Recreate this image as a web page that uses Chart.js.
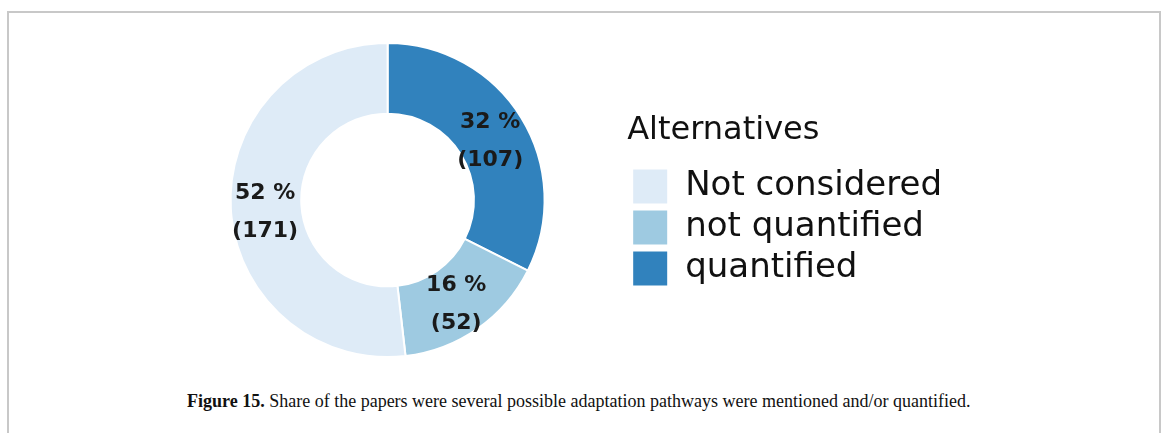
<!DOCTYPE html>
<html>
<head>
<meta charset="utf-8">
<script src="https://cdn.jsdelivr.net/npm/chart.js@4"></script>
<style>
  html, body { margin: 0; padding: 0; background: #ffffff; width: 1165px; height: 433px; overflow: hidden; }
  #frame { position: absolute; left: 7px; top: 11px; width: 1154px; height: 440px;
           border: 2px solid #c8c8c8; border-bottom: none; box-sizing: border-box; }
  #wrap { position: absolute; left: 0; top: 0; width: 1165px; height: 380px; }
  #caption { position: absolute; left: 187px; top: 391px; font-family: "Liberation Serif", serif;
             font-size: 18px; line-height: 20px; color: #111; white-space: nowrap; }
</style>
</head>
<body>
<div id="frame"></div>
<div id="wrap"><canvas id="c" width="1165" height="380"></canvas></div>
<div id="caption"><b>Figure 15.</b> Share of the papers were several possible adaptation pathways were mentioned and/or quantified.</div>
<script>
// Data (drawing order: clockwise from 12 o'clock)
const categories = ["quantified", "not quantified", "Not considered"];
const counts = [107, 52, 171];
const colors = ["#3182bd", "#9ecae1", "#deebf7"];
const legendTitle = "Alternatives";

const total = counts.reduce((a, b) => a + b, 0);

const sliceLabels = {
  id: 'sliceLabels',
  afterDatasetsDraw(chart) {
    const ctx = chart.ctx;
    const meta = chart.getDatasetMeta(0);
    ctx.save();
    ctx.font = 'bold 22px "DejaVu Sans"';
    ctx.fillStyle = '#1a1a1a';
    ctx.textAlign = 'center';
    ctx.textBaseline = 'middle';
    meta.data.forEach((arc, i) => {
      const p = arc.tooltipPosition();
      const v = chart.data.datasets[0].data[i];
      const pct = Math.round(v / total * 100);
      ctx.fillText(pct + ' %', p.x - 1, p.y - 14);
      ctx.fillText('(' + v + ')', p.x - 1, p.y + 24);
    });
    ctx.restore();
  }
};

new Chart(document.getElementById('c'), {
  type: 'doughnut',
  data: {
    labels: categories,
    datasets: [{
      data: counts,
      backgroundColor: colors,
      borderColor: '#ffffff',
      borderWidth: 2,
      hoverOffset: 0
    }]
  },
  options: {
    responsive: false,
    animation: false,
    radius: 157,
    cutout: '55%',
    layout: { padding: { left: 148, right: 213, top: 60, bottom: 40 } },
    plugins: {
      tooltip: { enabled: false },
      legend: {
        position: 'right',
        align: 'start',
        reverse: true,
        title: {
          display: true,
          text: legendTitle,
          position: 'start',
          color: '#111',
          font: { family: '"DejaVu Sans"', size: 32 },
          padding: { top: 55, bottom: 10 }
        },
        labels: {
          color: '#111',
          font: { family: '"DejaVu Sans"', size: 34 },
          boxWidth: 36,
          boxHeight: 36,
          padding: 5
        }
      }
    }
  },
  plugins: [sliceLabels]
});
</script>
</body>
</html>
